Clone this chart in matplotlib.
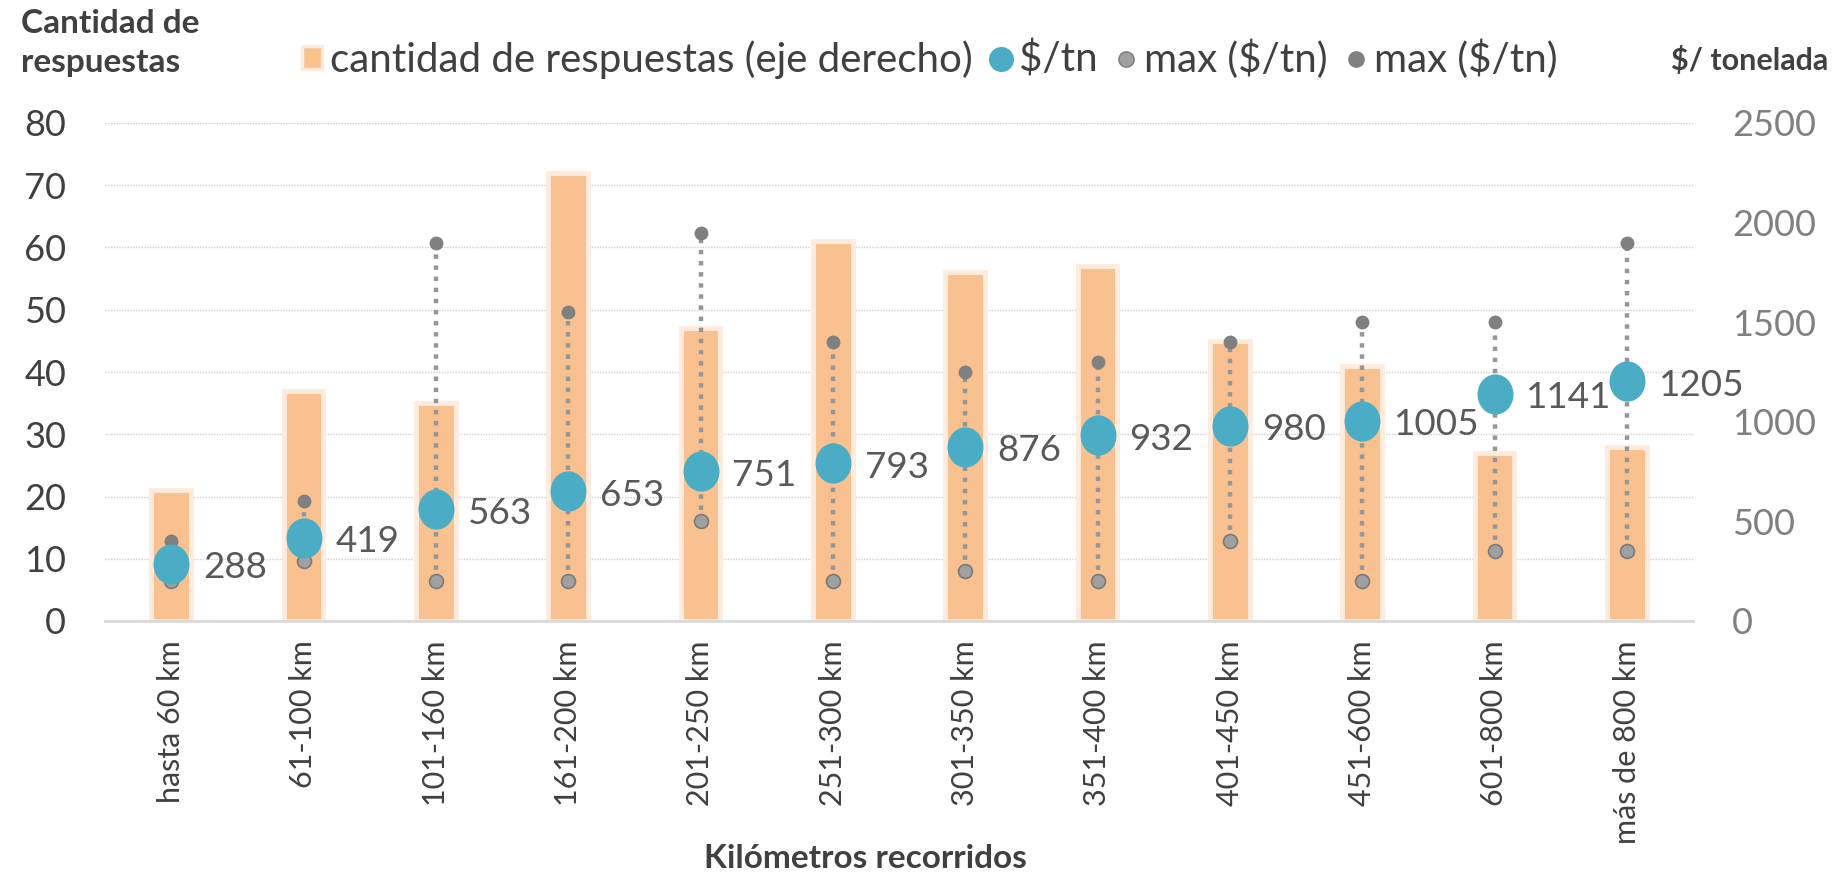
import matplotlib
matplotlib.use("Agg")
import matplotlib.pyplot as plt
import numpy as np
from matplotlib.path import Path
from matplotlib.lines import Line2D
from matplotlib.patches import Patch

plt.rcParams['font.family'] = ['Lato', 'DejaVu Sans']

# datos
categorias = ['hasta 60 km', '61-100 km', '101-160 km', '161-200 km', '201-250 km',
              '251-300 km', '301-350 km', '351-400 km', '401-450 km', '451-600 km',
              '601-800 km', 'más de 800 km']
respuestas = [21, 37, 35, 72, 47, 61, 56, 57, 45, 41, 27, 28]
precio_medio = [288, 419, 563, 653, 751, 793, 876, 932, 980, 1005, 1141, 1205]
precio_min = [200, 300, 200, 200, 500, 200, 250, 200, 400, 200, 350, 350]
precio_max = [400, 600, 1900, 1550, 1950, 1400, 1250, 1300, 1400, 1500, 1500, 1900]

W, H = 1837, 874
fig = plt.figure(figsize=(W / 100, H / 100), dpi=100)
ax = fig.add_axes([105 / W, 1 - 621 / H, 1588 / W, (621 - 123) / H])
ax2 = ax.twinx()

x = np.arange(len(categorias))

# barras con borde claro
ax.bar(x, respuestas, width=0.3, color='#F9C190', edgecolor='#FDEBDD', linewidth=3.5, zorder=2)
ax.set_ylim(0, 80)
ax.set_yticks(range(0, 81, 10))
ax.set_xlim(-0.5, len(categorias) - 0.5)
ax.yaxis.grid(True, color='#D0D0D0', linestyle=(0, (1, 1)), linewidth=1.0)
ax.set_axisbelow(True)
ax.tick_params(axis='y', length=0, labelsize=26, labelcolor='#404040', pad=28)
ax.tick_params(axis='x', length=0, labelsize=22, labelcolor='#404040', pad=14)
ax.set_xticks(x)
ax.set_xticklabels(categorias, rotation=90, va='top')
for s in ['top', 'left', 'right']:
    ax.spines[s].set_visible(False)
ax.spines['bottom'].set_color('#D9D9D9')
ax.spines['bottom'].set_linewidth(2)

# linea punteada min-max
ax2.vlines(x, precio_min, precio_max, colors='#969696', linewidth=3.2,
           linestyles=(0, (1, 1.5)), zorder=2)
ax2.plot(x, precio_max, 'o', color='#808080', markersize=10, markeredgewidth=0, zorder=3)
ax2.plot(x, precio_min, 'o', color='#A0A0A0', markeredgecolor='#7A7A7A',
         markersize=10, markeredgewidth=1.2, zorder=3)

# punto azul algo ovalado
circ = Path.unit_circle()
elipse = Path(circ.vertices * np.array([1.0, 1.12]), circ.codes)
ax2.plot(x, precio_medio, linestyle='none', marker=elipse, color='#4BACC6',
         markersize=29, markeredgewidth=0, zorder=4)
for xi, v in zip(x, precio_medio):
    ax2.annotate(str(v), (xi, v), xytext=(23, -3), textcoords='offset points',
                 ha='left', va='center', fontsize=26.5, color='#595959', zorder=5)

ax2.set_ylim(0, 2500)
ax2.set_yticks(range(0, 2501, 500))
ax2.tick_params(axis='y', length=0, labelsize=26, labelcolor='#808080', pad=28)
for s in ['top', 'left', 'right', 'bottom']:
    ax2.spines[s].set_visible(False)

# titulos de ejes
fig.text(21 / W, 1 - 9 / H, 'Cantidad de\nrespuestas', ha='left', va='top',
         fontsize=24, fontweight='bold', color='#404040', linespacing=1.4)
fig.text(1828 / W, 1 - 61 / H, '\\$/ tonelada', ha='right', va='center',
         fontsize=22, fontweight='bold', color='#404040')
fig.text(865 / W, 1 - 859 / H, 'Kilómetros recorridos', ha='center', va='center',
         fontsize=24, fontweight='bold', color='#404040')

# leyenda
handles = [
    Patch(facecolor='#F9C190', edgecolor='#FDEBDD', linewidth=2.5),
    Line2D([], [], linestyle='none', marker='o', color='#4BACC6', markersize=17),
    Line2D([], [], linestyle='none', marker='o', color='#A0A0A0', markeredgecolor='#7A7A7A',
           markersize=11),
    Line2D([], [], linestyle='none', marker='o', color='#808080', markersize=11),
]
labels = ['cantidad de respuestas (eje derecho)', '\\$/tn', 'max (\\$/tn)', 'max (\\$/tn)']
leg = fig.legend(handles, labels, loc='center', bbox_to_anchor=(930 / W, 1 - 59 / H),
                 ncol=4, frameon=False, fontsize=29, handlelength=0.5, handleheight=0.5,
                 handletextpad=0.2, columnspacing=0.45, labelcolor='#404040')

fig.savefig('out.png', dpi=100)
